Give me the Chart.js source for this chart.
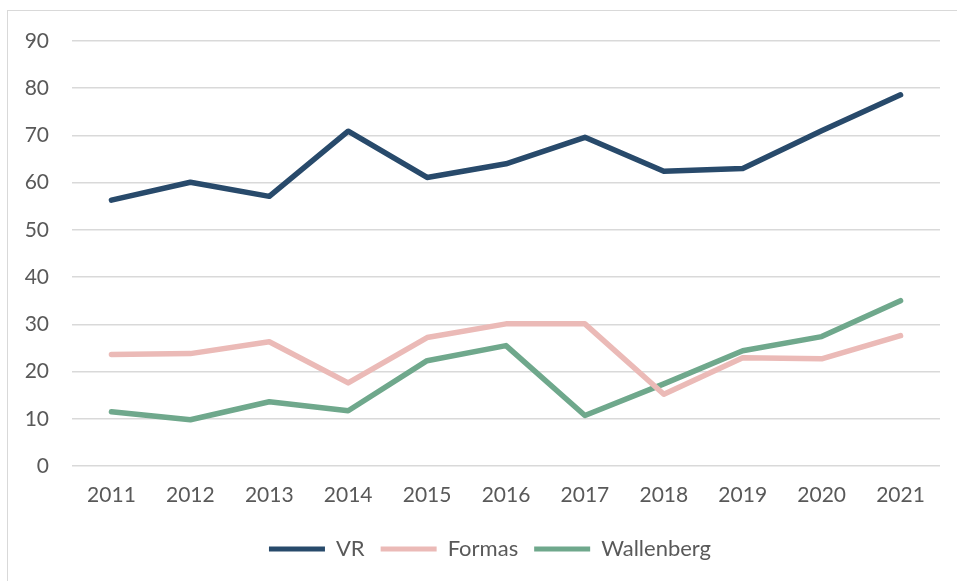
<!DOCTYPE html>
<html>
<head>
<meta charset="utf-8">
<script src="https://cdn.jsdelivr.net/npm/chart.js@4.4.0/dist/chart.umd.min.js"></script>
<style>
  html, body { margin: 0; padding: 0; background: #fff; overflow: hidden; }
  #wrap { position: relative; width: 957px; height: 581px; }
  #frame { position: absolute; left: 7px; top: 10px; width: 1000px; height: 1000px; border: 1.5px solid #d9d9d9; box-sizing: border-box; }
  canvas { position: absolute; left: 0; top: 0; }
</style>
</head>
<body>
<div id="wrap">
  <div id="frame"></div>
  <canvas id="chart" width="957" height="581"></canvas>
</div>
<script>
var years = ["2011", "2012", "2013", "2014", "2015", "2016", "2017", "2018", "2019", "2020", "2021"];
var vr = [56.3, 60.1, 57.1, 70.9, 61.1, 64.0, 69.6, 62.4, 63.0, 71.0, 78.6];
var formas = [23.6, 23.8, 26.3, 17.6, 27.2, 30.1, 30.1, 15.2, 22.9, 22.7, 27.6];
var wallenberg = [11.5, 9.8, 13.6, 11.7, 22.3, 25.5, 10.7, 17.4, 24.4, 27.4, 35.0];
var yTicks = [0, 10, 20, 30, 40, 50, 60, 70, 80, 90];

var textColor = '#595959';
var fontFamily = 'Lato, "Open Sans", sans-serif';

function line(label, data, color) {
    return {
        label: label,
        data: data,
        borderColor: color,
        backgroundColor: color,
        borderWidth: 5.5,
        borderCapStyle: 'round',
        borderJoinStyle: 'round',
        pointRadius: 0,
        tension: 0
    };
}

// nudge the legend to the right, it sits centred under the plot in the original
var legendShift = {
    id: 'legendShift',
    afterLayout: function(chart) {
        chart.legend.left += 20;
        chart.legend.right += 20;
    }
};

var ctx = document.getElementById('chart');

var chartGraph = new Chart(ctx, {
    type: 'line',
    data: {
        labels: years,
        datasets: [
            line('VR', vr, '#284a6b'),
            line('Formas', formas, '#ebbab7'),
            line('Wallenberg', wallenberg, '#6fa88c')
        ]
    },
    plugins: [legendShift],
    options: {
        responsive: false,
        animation: false,
        layout: {
            padding: { top: 41, right: 17, left: 0, bottom: 11 }
        },
        scales: {
            x: {
                offset: true,
                grid: { display: false, drawTicks: false },
                border: { display: false },
                ticks: {
                    color: textColor,
                    font: { family: fontFamily, size: 21 },
                    padding: 17,
                    maxRotation: 0
                },
                afterFit: function(scale) { scale.height = 56; }
            },
            y: {
                min: 0,
                max: 90,
                afterBuildTicks: function(scale) {
                    scale.ticks = yTicks.map(function(v) { return { value: v }; });
                },
                grid: { color: '#d9d9d9', lineWidth: 1.5, drawTicks: false },
                border: { display: false },
                ticks: {
                    color: textColor,
                    font: { family: fontFamily, size: 21 },
                    padding: 23
                },
                afterFit: function(scale) { scale.width = 72; }
            }
        },
        plugins: {
            tooltip: { enabled: false },
            legend: {
                position: 'bottom',
                labels: {
                    color: textColor,
                    font: { family: fontFamily, size: 22 },
                    boxWidth: 56,
                    boxHeight: 5,
                    padding: 16,
                    useBorderRadius: true,
                    borderRadius: 2.5,
                    generateLabels: function(chart) {
                        return chart.data.datasets.map(function(ds, i) {
                            return {
                                text: ds.label,
                                fillStyle: ds.borderColor,
                                strokeStyle: ds.borderColor,
                                lineWidth: 0,
                                fontColor: textColor,
                                datasetIndex: i
                            };
                        });
                    }
                }
            }
        }
    }
});
</script>
</body>
</html>
